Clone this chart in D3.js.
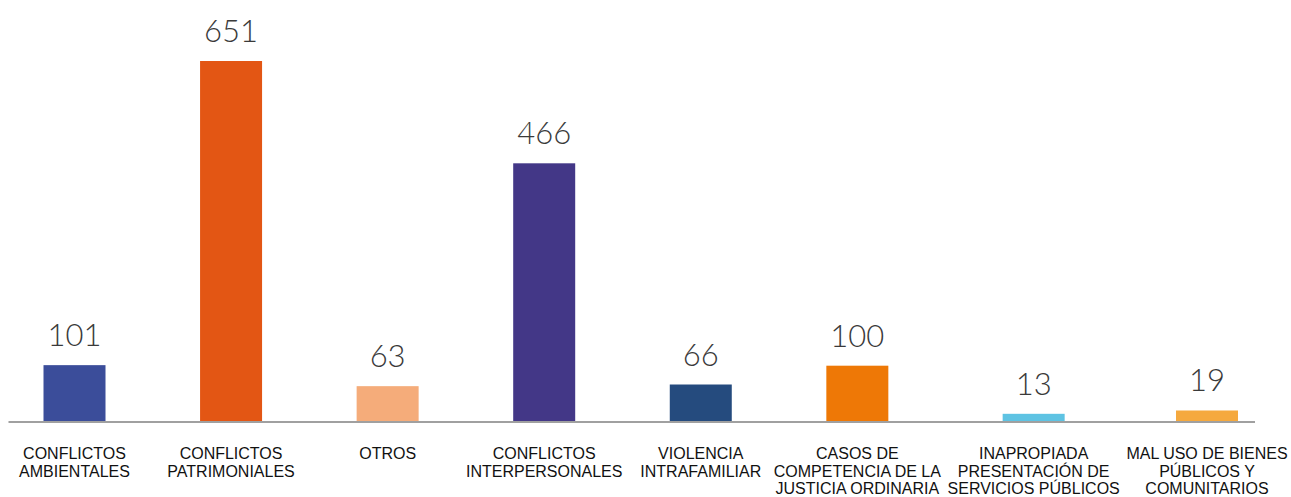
<!DOCTYPE html>
<html>
<head>
<meta charset="utf-8">
<script src="https://cdn.jsdelivr.net/npm/d3@7"></script>
<style>
  html, body { margin: 0; padding: 0; background: #fff; }
  svg { display: block; }
</style>
</head>
<body>
<svg id="chart" width="1291" height="497"></svg>
<script>
const categories = [
  "CONFLICTOS AMBIENTALES",
  "CONFLICTOS PATRIMONIALES",
  "OTROS",
  "CONFLICTOS INTERPERSONALES",
  "VIOLENCIA INTRAFAMILIAR",
  "CASOS DE COMPETENCIA DE LA JUSTICIA ORDINARIA",
  "INAPROPIADA PRESENTACIÓN DE SERVICIOS PÚBLICOS",
  "MAL USO DE BIENES PÚBLICOS Y COMUNITARIOS"
];
const values = [101, 651, 63, 466, 66, 100, 13, 19];
const colors = ["#3B4D9A", "#E35614", "#F5AC7A", "#433787", "#254B7E", "#EE7806", "#5EC3E3", "#F5A93E"];

const svg = d3.select("#chart");
const baseY = 421;
const topY = 61;
const barW = 62;
const maxW = 180;      // label wrap width
const minStep = 156;   // minimum distance between category centres
const labelGap = 6;    // minimum gap between neighbouring labels

const data = categories.map((c, i) => ({ c, v: values[i], col: colors[i] }));

// category labels, wrapped first so their widths can drive the spacing
const labels = svg.append("g").selectAll("text")
  .data(data)
  .join("text")
  .attr("y", 459)
  .attr("text-anchor", "middle")
  .attr("font-family", "'Liberation Sans', Arial, sans-serif")
  .attr("font-size", 16)
  .attr("fill", "#111");

labels.each(function(d) {
  const t = d3.select(this);
  const words = d.c.split(" ");
  let line = [];
  let tspan = t.append("tspan").attr("x", 0).attr("dy", 0);
  words.forEach(w => {
    line.push(w);
    tspan.text(line.join(" "));
    if (tspan.node().getComputedTextLength() > maxW && line.length > 1) {
      line.pop();
      tspan.text(line.join(" "));
      line = [w];
      tspan = t.append("tspan").attr("x", 0).attr("dy", 17.5).text(w);
    }
  });
  let mw = 0;
  t.selectAll("tspan").each(function() { mw = Math.max(mw, this.getComputedTextLength()); });
  d.w = mw;
});

// cumulative layout positions (category centres) in layout units
const pos = [0];
for (let i = 1; i < data.length; i++) {
  const step = Math.max(minStep, (data[i - 1].w + data[i].w) / 2 + labelGap);
  pos.push(pos[i - 1] + step);
}
data.forEach((d, i) => d.p = pos[i]);

const x = d3.scaleLinear()
  .domain([0, pos[pos.length - 1]])
  .range([74.5, 1207]);

const y = d3.scaleLinear()
  .domain([0, d3.max(values)])
  .range([baseY, topY]);

labels.each(function(d) {
  d3.select(this).selectAll("tspan").attr("x", x(d.p));
});

svg.append("g").selectAll("rect")
  .data(data)
  .join("rect")
  .attr("x", d => x(d.p) - barW / 2)
  .attr("y", d => y(d.v))
  .attr("width", barW)
  .attr("height", d => baseY - y(d.v))
  .attr("fill", d => d.col);

// baseline
svg.append("line")
  .attr("x1", x(0) - 66)
  .attr("x2", x(pos[pos.length - 1]) + 48)
  .attr("y1", baseY + 1)
  .attr("y2", baseY + 1)
  .attr("stroke", "#A0A0A0")
  .attr("stroke-width", 2);

// value labels
svg.append("g").selectAll("text")
  .data(data)
  .join("text")
  .attr("x", d => x(d.p))
  .attr("y", d => y(d.v) - 19)
  .attr("text-anchor", "middle")
  .attr("font-family", "Lato, 'Open Sans', sans-serif")
  .attr("font-weight", 300)
  .attr("font-size", 31)
  .attr("fill", "#3a3a3a")
  .text(d => d.v);
</script>
</body>
</html>
